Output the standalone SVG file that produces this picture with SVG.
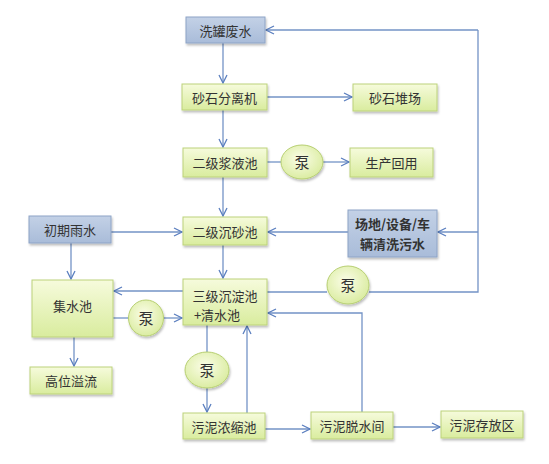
<svg xmlns="http://www.w3.org/2000/svg" width="549" height="464" viewBox="0 0 549 464">
<defs>
<linearGradient id="gg" x1="0" y1="0" x2="0" y2="1">
<stop offset="0" stop-color="#f6fbdc"/><stop offset="1" stop-color="#d9ec9e"/>
</linearGradient>
<linearGradient id="bg" x1="0" y1="0" x2="0" y2="1">
<stop offset="0" stop-color="#c3d1e6"/><stop offset="1" stop-color="#a9bcd9"/>
</linearGradient>
<radialGradient id="pg" cx="0.45" cy="0.4" r="0.65">
<stop offset="0" stop-color="#fbfde8"/><stop offset="1" stop-color="#d8eb9c"/>
</radialGradient>
<marker id="ar" viewBox="0 0 10 10" refX="9" refY="5" markerWidth="10" markerHeight="10" markerUnits="userSpaceOnUse" orient="auto">
<path d="M1,1 L9,5 L1,9" fill="none" stroke="#5b7fbf" stroke-width="1.3"/>
</marker>
<filter id="sh" x="-10%" y="-10%" width="125%" height="140%">
<feDropShadow dx="1" dy="2" stdDeviation="1" flood-color="#000" flood-opacity="0.25"/>
</filter>
</defs>
<style>
.g{fill:url(#gg);stroke:#bcd27a;stroke-width:1;filter:url(#sh)}
.b{fill:url(#bg);stroke:#8ea4c6;stroke-width:1;filter:url(#sh)}
.p{fill:url(#pg);stroke:#b7cf72;stroke-width:1;filter:url(#sh)}
.t{font-family:"Noto Sans CJK SC","Noto Sans",sans-serif;font-size:13px;fill:#333;text-anchor:middle;dominant-baseline:central}
.pt{font-size:15px}
.c{fill:none;stroke:#7393c6;stroke-width:1.3}
.a{marker-end:url(#ar)}
</style>
<g id="connectors">
<path class="c a" d="M223,43 V83"/>
<path class="c a" d="M267,97 H352"/>
<path class="c a" d="M223,110 V147"/>
<path class="c" d="M267,162 H281"/>
<path class="c a" d="M323,162 H349"/>
<path class="c a" d="M223,177 V216"/>
<path class="c a" d="M111,232 H182"/>
<path class="c a" d="M348,232 H268"/>
<path class="c a" d="M71,243 V279"/>
<path class="c a" d="M223,245 V278"/>
<path class="c a" d="M183,291 H114"/>
<path class="c" d="M113,318 H129"/>
<path class="c a" d="M164,318 H182"/>
<path class="c" d="M267,292 H327"/>
<path class="c" d="M369,292 H478 V30"/>
<path class="c a" d="M478,30 H266"/>
<path class="c a" d="M478,232 H438"/>
<path class="c a" d="M74,337 V366"/>
<path class="c" d="M207,325 V352"/>
<path class="c a" d="M207,388 V412"/>
<path class="c a" d="M247,413 V326"/>
<path class="c a" d="M362,412 V313 H268"/>
<path class="c a" d="M265,429 H310"/>
<path class="c a" d="M393,427 H440"/>
</g>
<g id="xiguan"><rect class="b" x="186" y="17" width="79" height="26"/><text class="t" x="225.5" y="30">洗罐废水</text></g>
<g id="fenliji"><rect class="g" x="182" y="84" width="85" height="26"/><text class="t" x="224.5" y="97">砂石分离机</text></g>
<g id="duichang"><rect class="g" x="353" y="84" width="84" height="27"/><text class="t" x="395" y="97.5">砂石堆场</text></g>
<g id="jiangye"><rect class="g" x="183" y="148" width="84" height="29"/><text class="t" x="225" y="162.5">二级浆液池</text></g>
<g id="pump1"><ellipse class="p" cx="302" cy="162" rx="21" ry="17"/><text class="t pt" x="302" y="161">泵</text></g>
<g id="huiyong"><rect class="g" x="350" y="148" width="83" height="29"/><text class="t" x="391.5" y="162.5">生产回用</text></g>
<g id="chensha"><rect class="g" x="183" y="217" width="84" height="28"/><text class="t" x="225" y="231">二级沉砂池</text></g>
<g id="changdi"><rect class="b" x="348" y="210" width="89" height="47"/><text class="t" x="392.5" y="223.5" font-weight="bold">场地/设备/车</text><text class="t" x="392.5" y="243.5" font-weight="bold">辆清洗污水</text></g>
<g id="yushui"><rect class="b" x="29" y="216" width="82" height="27"/><text class="t" x="70" y="229.5">初期雨水</text></g>
<g id="jishui"><rect class="g" x="32" y="280" width="81" height="57"/><text class="t" x="72.5" y="305">集水池</text></g>
<g id="pump2"><ellipse class="p" cx="146" cy="318" rx="17.5" ry="18"/><text class="t pt" x="146" y="317">泵</text></g>
<g id="chendian"><rect class="g" x="183" y="279" width="84" height="46"/><text class="t" x="225" y="295">三级沉淀池</text><text class="t" x="217" y="314">+清水池</text></g>
<g id="pump3"><ellipse class="p" cx="348" cy="285" rx="21" ry="19"/><text class="t pt" x="348" y="284">泵</text></g>
<g id="yiliu"><rect class="g" x="30" y="367" width="82" height="27"/><text class="t" x="71" y="380.5">高位溢流</text></g>
<g id="pump4"><ellipse class="p" cx="207" cy="370" rx="22" ry="18"/><text class="t pt" x="207" y="369">泵</text></g>
<g id="nongsuo"><rect class="g" x="183" y="413" width="82" height="26"/><text class="t" x="224" y="426">污泥浓缩池</text></g>
<g id="tuoshui"><rect class="g" x="311" y="412" width="82" height="27"/><text class="t" x="352" y="425.5">污泥脱水间</text></g>
<g id="cunfang"><rect class="g" x="441" y="411" width="82" height="27"/><text class="t" x="482" y="424.5">污泥存放区</text></g>
</svg>
